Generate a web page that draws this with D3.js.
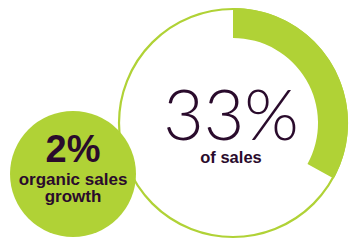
<!DOCTYPE html>
<html><head><meta charset="utf-8">
<script src="https://cdn.jsdelivr.net/npm/d3@7"></script>
<style>html,body{margin:0;padding:0;background:#fff;}svg{display:block;}</style>
</head><body>
<svg id="c" width="349" height="240"></svg>
<script>
const shareValues = [33];
const shareLabels = ["33%", "of sales"];
const growthValues = [2];
const growthLabels = ["2%", "organic sales", "growth"];

const green = "#b0d236", ink = "#2a0b2c";
const svg = d3.select("#c");
const big = {cx: 233, cy: 123, r: 115, inner: 85};
const small = {cx: 73, cy: 174, r: 63};

const angle = d3.scaleLinear().domain([0, 100]).range([0, 2 * Math.PI]);

const g = svg.append("g").attr("transform", `translate(${big.cx},${big.cy})`);
g.append("circle").attr("r", big.r - 1).attr("fill", "#fff").attr("stroke", green).attr("stroke-width", 2.2);
g.selectAll("path.arc").data(shareValues).join("path").attr("class", "arc")
  .attr("d", d => d3.arc().innerRadius(big.inner).outerRadius(big.r)({startAngle: 0, endAngle: angle(d)}))
  .attr("fill", green);
g.append("text").text(shareLabels[0]).attr("x", -2).attr("y", 17)
  .attr("text-anchor", "middle").attr("font-family", "Lato, 'Open Sans', sans-serif").attr("font-weight", 300)
  .attr("font-size", 70).attr("fill", ink);
g.append("text").text(shareLabels[1]).attr("x", -2).attr("y", 40)
  .attr("text-anchor", "middle").attr("font-family", "'Liberation Sans', sans-serif").attr("font-weight", 700)
  .attr("font-size", 16.5).attr("fill", ink);

const s = svg.append("g").attr("transform", `translate(${small.cx},${small.cy})`);
s.append("circle").attr("r", small.r).attr("fill", green);
s.append("text").text(growthValues[0] + "%").attr("x", 0).attr("y", -12)
  .attr("text-anchor", "middle").attr("font-family", "'Liberation Sans', sans-serif").attr("font-weight", 700)
  .attr("font-size", 38).attr("fill", ink);
s.selectAll("text.sub").data(growthLabels.slice(1)).join("text").attr("class", "sub")
  .text(d => d).attr("x", 0).attr("y", (d, i) => 11 + i * 17)
  .attr("text-anchor", "middle").attr("font-family", "'Liberation Sans', sans-serif").attr("font-weight", 700)
  .attr("font-size", 17).attr("fill", ink);
</script>
</body></html>
